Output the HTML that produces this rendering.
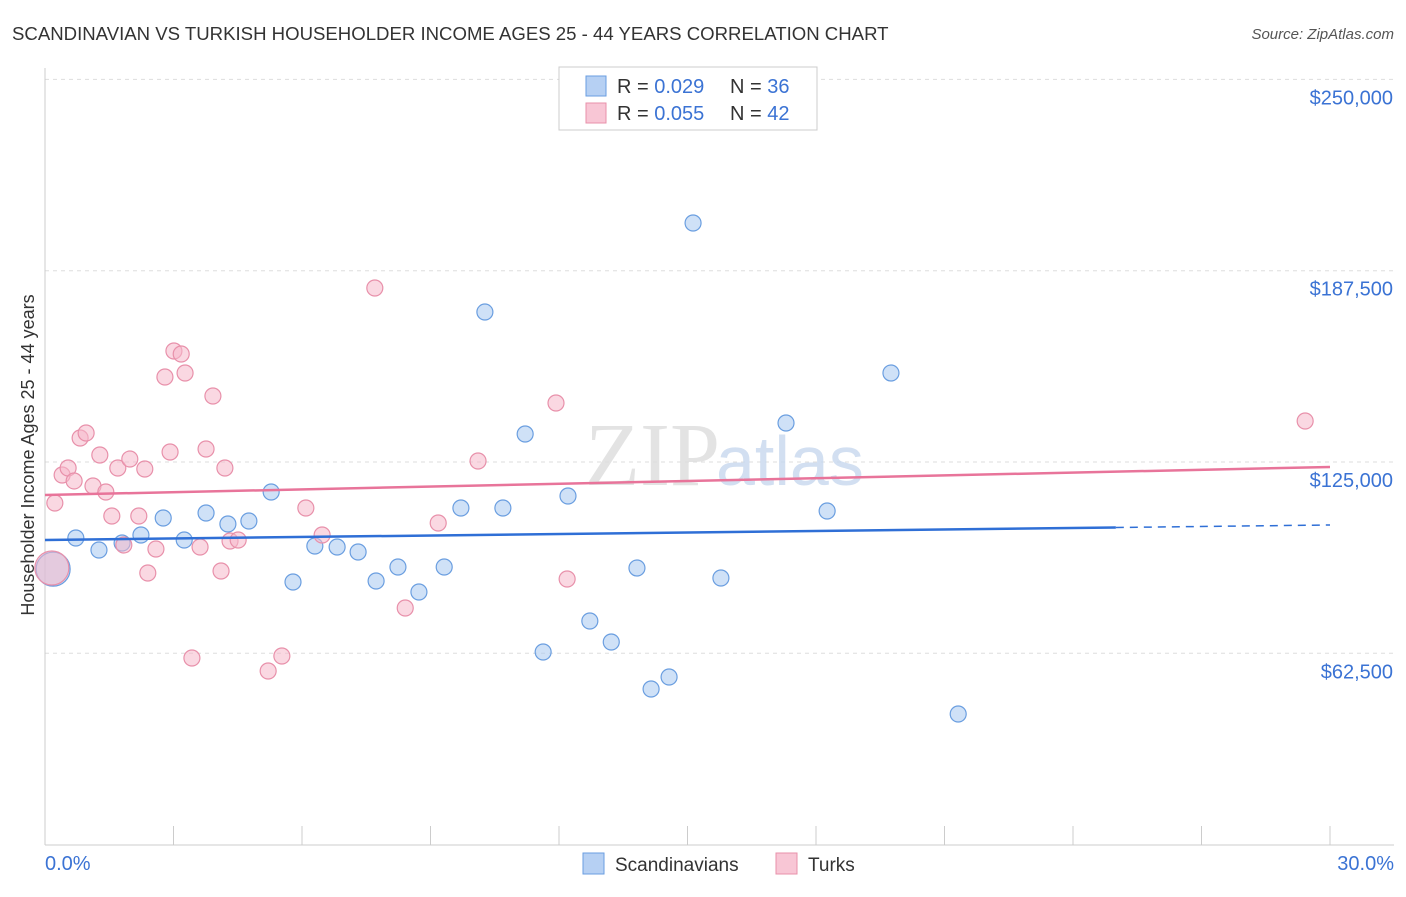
<!DOCTYPE html>
<html><head><meta charset="utf-8"><style>
body{margin:0;background:#fff;font-family:"Liberation Sans",sans-serif;}
</style></head><body>
<svg width="1406" height="892" xmlns="http://www.w3.org/2000/svg" font-family="Liberation Sans, sans-serif">
<text x="12" y="40" font-size="18.6" fill="#333">SCANDINAVIAN VS TURKISH HOUSEHOLDER INCOME AGES 25 - 44 YEARS CORRELATION CHART</text>
<text x="1394" y="39" font-size="15" fill="#555" font-style="italic" text-anchor="end">Source: ZipAtlas.com</text>
<g id="grid"></g>
<text x="720" y="485" font-size="90" fill="#ddd" font-family="Liberation Serif, serif" text-anchor="end" opacity="0.8">ZIP</text>
<text x="716" y="485" font-size="70" fill="#c7d8ee" opacity="0.8">atlas</text>
<g id="marks"></g>
<text x="34" y="455" font-size="18" fill="#333" text-anchor="middle" transform="rotate(-90 34 455)">Householder Income Ages 25 - 44 years</text>
<text x="45" y="870" font-size="20" fill="#3b73d4">0.0%</text>
<text x="1394" y="870" font-size="20" fill="#3b73d4" text-anchor="end">30.0%</text>
<g>
<rect x="559" y="67" width="258" height="63" fill="#fff" stroke="#ccc"/>
<rect x="586" y="76" width="20" height="20" fill="#b6d0f3" stroke="#6a9ee0"/>
<rect x="586" y="103" width="20" height="20" fill="#f8c6d5" stroke="#e890aa"/>
<text x="617" y="93" font-size="20" fill="#333">R = <tspan fill="#3b73d4">0.029</tspan><tspan x="730">N = </tspan><tspan fill="#3b73d4">36</tspan></text>
<text x="617" y="120" font-size="20" fill="#333">R = <tspan fill="#3b73d4">0.055</tspan><tspan x="730">N = </tspan><tspan fill="#3b73d4">42</tspan></text>
</g>
<g>
<rect x="583" y="853" width="21" height="21" fill="#b6d0f3" stroke="#6a9ee0"/>
<text x="615" y="871" font-size="19" fill="#333">Scandinavians</text>
<rect x="776" y="853" width="21" height="21" fill="#f8c6d5" stroke="#e890aa"/>
<text x="808" y="871" font-size="19" fill="#333">Turks</text>
</g>
</svg>
<script>
const yTicks=[62500,125000,187500,250000];
const yTickLabels=["$62,500","$125,000","$187,500","$250,000"];
const blueX=[0.19,0.72,1.26,1.80,2.24,2.76,3.25,3.76,4.27,4.76,5.28,5.79,6.30,6.82,7.31,7.73,8.24,8.73,9.32,9.71,10.27,10.69,11.21,11.63,12.21,12.72,13.22,13.82,14.15,14.57,15.13,15.78,17.30,18.26,19.75,21.32];
const blueY=[90000,100170,96250,98540,101150,106700,99520,108340,104740,105720,115200,85800,97560,97230,95600,86120,90700,82530,90700,109970,174000,109970,134150,62930,113890,73050,66190,90370,50840,54760,203080,87100,137740,108990,154080,42670];
const pinkX=[0.16,0.23,0.40,0.54,0.68,0.82,0.96,1.12,1.28,1.42,1.56,1.70,1.84,1.98,2.19,2.33,2.40,2.59,2.80,2.92,3.01,3.18,3.27,3.43,3.62,3.76,3.92,4.11,4.20,4.32,4.51,5.21,5.53,6.09,6.47,7.70,8.41,9.18,10.11,11.93,12.19,29.42];
const pinkY=[90370,111600,120750,123040,118800,132840,134470,117160,127290,115200,107360,123040,97880,125980,107360,122710,88740,96580,152770,128270,161260,160280,154080,60970,97230,129250,146560,89390,123040,99190,99520,56720,61620,109970,101150,181850,77300,105070,125330,144280,86770,138400];
const blueTrend=[99520,104420];
const pinkTrend=[114220,123370];
const NS="http://www.w3.org/2000/svg";
const xs=v=>45+v/30*1285;
const ys=v=>462-(v-125000)*191.3/62500;
function mk(t,a,p){const e=document.createElementNS(NS,t);for(const k in a)e.setAttribute(k,a[k]);p.appendChild(e);return e;}
const grid=document.getElementById('grid'),marks=document.getElementById('marks');
yTicks.forEach((t,i)=>{
 const l=mk('line',{x1:45,x2:1394,y1:ys(t),y2:ys(t),stroke:'#ddd','stroke-dasharray':'4,4'},grid);
 
 
 const tx=mk('text',{x:1393,y:ys(t)+25,'font-size':20,fill:'#3b73d4','text-anchor':'end'},grid);
 tx.textContent=yTickLabels[i];
 
 
});
const ax=mk('line',{x1:45,x2:45,y1:68,y2:845,stroke:'#ccc'},grid);


const bx=mk('line',{x1:45,x2:1394,y1:845,y2:845,stroke:'#ccc'},grid);


for(let i=0;i<=10;i++){const t=mk('line',{x1:xs(i*3),x2:xs(i*3),y1:826,y2:845,stroke:'#ccc'},grid);
 
 }
function pts(X,Y,fill,stroke,name){X.forEach((x,i)=>{
 const c=mk('circle',{cx:xs(x),cy:ys(Y[i]),r:i===0?17:8,fill:fill,'fill-opacity':0.55,stroke:stroke,'stroke-width':1.2},marks);
 
 });}
pts(blueX,blueY,'#a8c8f0','#6a9ee0','scandinavian-point');
pts(pinkX,pinkY,'#f5b8cb','#e890aa','turkish-point');
const bs=t=>blueTrend[0]+(blueTrend[1]-blueTrend[0])*t/30;
const l1=mk('line',{x1:xs(0),y1:ys(bs(0)),x2:xs(25),y2:ys(bs(25)),stroke:'#2f6fd6','stroke-width':2.5},marks);


const l2=mk('line',{x1:xs(25),y1:ys(bs(25)),x2:xs(30),y2:ys(bs(30)),stroke:'#2f6fd6','stroke-width':1.5,'stroke-dasharray':'8,6'},marks);


const l3=mk('line',{x1:xs(0),y1:ys(pinkTrend[0]),x2:xs(30),y2:ys(pinkTrend[1]),stroke:'#e8749a','stroke-width':2.5},marks);


</script>
</body></html>
